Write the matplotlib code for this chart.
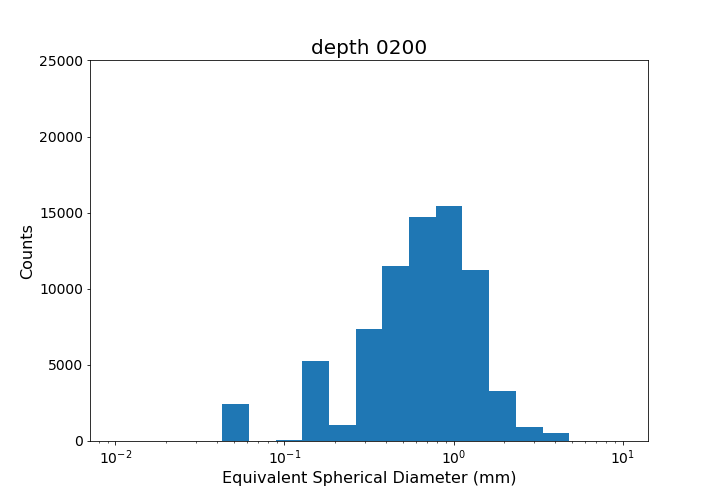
import numpy as np
import matplotlib
matplotlib.use("Agg")
import matplotlib.pyplot as plt

# Log-spaced bin edges (0.01 to 10 mm, 19 bins)
bin_edges = np.logspace(-2, 1, 20)
# Counts per bin
counts = [0, 0, 0, 0, 2450, 0, 60, 5280, 1080, 7330, 11480, 14720,
          15450, 11220, 3300, 920, 530, 0, 0]

fig = plt.figure(figsize=(10, 7), dpi=72)
ax = fig.add_subplot(111)
fig.subplots_adjust(bottom=0.125, top=0.88, left=0.125, right=0.9)

centers = np.sqrt(bin_edges[:-1] * bin_edges[1:])
ax.hist(centers, bins=bin_edges, weights=counts, color="#1f77b4")
ax.set_xscale("log")
ax.set_ylim(0, 25000)
ax.set_title("depth 0200", fontsize=20)
ax.set_xlabel("Equivalent Spherical Diameter (mm)", fontsize=16)
ax.set_ylabel("Counts", fontsize=16)
ax.tick_params(labelsize=14)

fig.savefig("out.png", dpi=72)
